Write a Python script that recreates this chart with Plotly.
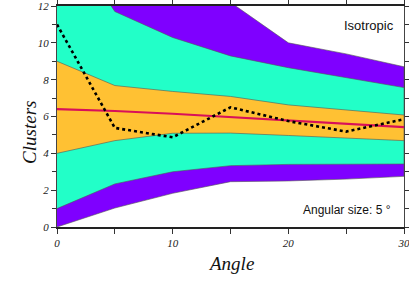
import plotly.graph_objects as go

angle = [0, 5, 10, 15, 20, 25, 30]
purple_top = [20.0, 17.0, 14.0, 12.2, 10.0, 9.4, 8.7]
teal_top = [16.5, 11.7, 10.29, 9.29, 8.65, 8.1, 7.57]
orange_top = [9.0, 7.68, 7.36, 7.09, 6.63, 6.36, 6.08]
orange_bot = [4.0, 4.69, 5.09, 5.1, 4.97, 4.85, 4.69]
teal_bot = [1.0, 2.34, 3.0, 3.33, 3.4, 3.4, 3.42]
purple_bot = [0.0, 1.03, 1.83, 2.46, 2.5, 2.6, 2.75]
mean_line = [6.4, 6.3, 6.15, 5.97, 5.8, 5.6, 5.42]
observed = [11.0, 5.38, 4.87, 6.5, 5.75, 5.18, 5.85]

PURPLE = "#7F00FF"
TEAL = "#22FFC8"
ORANGE = "#FFC133"
RED = "#D8105A"

fig = go.Figure()


def band(upper, lower, color):
    xs = angle + angle[::-1]
    ys = upper + lower[::-1]
    fig.add_trace(go.Scatter(x=xs, y=ys, fill="toself", fillcolor=color,
                             mode="lines", line=dict(color="#555555", width=0.6),
                             hoverinfo="skip", showlegend=False))


band(purple_top, purple_bot, PURPLE)
band(teal_top, teal_bot, TEAL)
band(orange_top, orange_bot, ORANGE)

fig.add_trace(go.Scatter(x=angle, y=mean_line, mode="lines",
                         line=dict(color=RED, width=2.2), showlegend=False))
fig.add_trace(go.Scatter(x=angle, y=observed, mode="lines",
                         line=dict(color="black", width=2.6, dash="dot"), showlegend=False))

tickfont = dict(family="Liberation Serif, Times New Roman, serif", size=11,
                color="#222222", style="italic")
titlefont = dict(family="Liberation Serif, Times New Roman, serif", size=19,
                 color="#111111", style="italic")

fig.update_layout(
    width=409, height=300,
    margin=dict(l=57, r=5, t=6, b=73, autoexpand=False),
    paper_bgcolor="white", plot_bgcolor="white",
    showlegend=False,
    xaxis=dict(range=[0, 30], dtick=10, tick0=0, ticks="outside", ticklen=5,
               tickcolor="#333333", showline=True, linecolor="#222222", linewidth=2,
               mirror="ticks", showgrid=False, zeroline=False, tickfont=tickfont,
               automargin=False, ticklabeloverflow="allow",
               minor=dict(dtick=5, ticks="outside", ticklen=5, tickcolor="#333333")),
    yaxis=dict(range=[0, 12], dtick=2, tick0=0, ticks="outside", ticklen=5,
               tickcolor="#333333", showline=True, linecolor="#444444", linewidth=1,
               mirror="ticks", showgrid=False, zeroline=False, tickfont=tickfont,
               automargin=False, ticklabeloverflow="allow", ticklabelstandoff=0,
               minor=dict(dtick=1, ticks="outside", ticklen=4, tickcolor="#333333")),
)

fig.add_annotation(x=-0.078, y=0.43, xref="paper", yref="paper", text="Clusters",
                   textangle=-90, showarrow=False, font=titlefont,
                   xanchor="center", yanchor="middle")
fig.add_annotation(x=0.5, y=-0.163, xref="paper", yref="paper", text="Angle",
                   showarrow=False, font=titlefont, xanchor="center", yanchor="middle")

annfont = dict(family="Liberation Sans Narrow, Arial Narrow, Liberation Sans, sans-serif",
               size=13, color="#111111")
fig.add_annotation(x=0.899, y=0.914, xref="paper", yref="paper", text="Isotropic",
                   showarrow=False, font=annfont, xanchor="center", yanchor="middle")
fig.add_annotation(x=0.836, y=0.076, xref="paper", yref="paper", text="Angular size: 5 °",
                   showarrow=False, font=dict(annfont, size=12), xanchor="center",
                   yanchor="middle")

fig.write_html("out.html", config={"displayModeBar": False},
               post_script="document.body.style.margin='0';document.body.style.padding='0';")
